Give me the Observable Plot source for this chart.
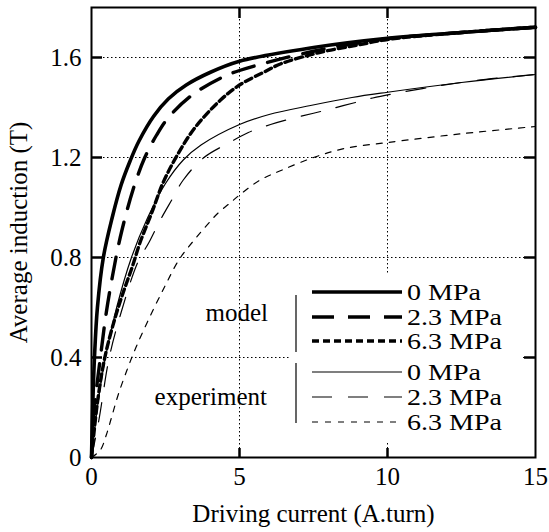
<!DOCTYPE html>
<html><head><meta charset="utf-8">
<script src="https://cdn.jsdelivr.net/npm/d3@7"></script>
<script src="https://cdn.jsdelivr.net/npm/@observablehq/plot@0.6"></script>
<style>body{margin:0;background:#fff;} svg{display:block;}</style>
</head><body>
<div id="chart"></div>
<script>
const xTicks = [0, 5, 10, 15];
const yTicks = [0, 0.4, 0.8, 1.2, 1.6];
const innerTicksX = [5, 10];
const innerTicksY = [0.4, 0.8, 1.2, 1.6];
const pressures = ["0 MPa", "2.3 MPa", "6.3 MPa"];
const groups = ["model", "experiment"];

const model0 = [[0,0],[0.04,0.2],[0.1,0.4],[0.2,0.6],[0.4,0.8],[0.7,0.96],[1.0,1.09],[1.3,1.185],[1.6,1.265],[2.1,1.365],[2.6,1.435],[3.2,1.49],[4,1.54],[5,1.585],[7.5,1.64],[10,1.677],[12.5,1.70],[15,1.721]];
const model23 = [[0,0],[0.1,0.2],[0.3,0.4],[0.5,0.58],[0.7,0.72],[0.97,0.88],[1.4,1.07],[1.8,1.2],[2.2,1.29],[2.6,1.36],[3.4,1.45],[4.4,1.52],[5,1.548],[7.5,1.625],[10,1.675],[12.5,1.70],[15,1.721]];
const model63 = [[0,0],[0.2,0.22],[0.45,0.4],[0.8,0.56],[1.1,0.67],[1.37,0.76],[1.64,0.86],[2.04,0.98],[2.42,1.1],[2.9,1.21],[3.5,1.32],[4.36,1.43],[5,1.49],[5.8,1.54],[6.4,1.575],[7.7,1.62],[9,1.65],[10,1.672],[12.5,1.70],[15,1.721]];
const exp0 = [[0,0],[0.2,0.2],[0.47,0.4],[0.85,0.6],[1.35,0.8],[1.9,0.96],[2.5,1.096],[3.1,1.19],[3.7,1.25],[5,1.332],[6,1.372],[7.4,1.408],[8.8,1.44],[10,1.461],[12.5,1.50],[15,1.532]];
const exp23 = [[0,0],[0.25,0.15],[0.6,0.4],[1.0,0.58],[1.56,0.78],[1.94,0.86],[2.28,0.94],[2.7,1.028],[3.1,1.11],[3.8,1.2],[4.6,1.256],[5.3,1.30],[6.05,1.332],[6.8,1.357],[7.5,1.377],[8.1,1.395],[8.85,1.418],[9.5,1.438],[10.2,1.455],[11.5,1.482],[13,1.508],[15,1.532]];
const exp63 = [[0,0],[0.3,0.03],[0.5,0.09],[0.7,0.17],[0.9,0.25],[1.2,0.35],[1.5,0.44],[2.0,0.57],[2.5,0.69],[2.95,0.79],[3.4,0.86],[3.8,0.916],[4.26,0.976],[4.7,1.02],[5,1.05],[5.7,1.11],[6.4,1.148],[7.5,1.2],[8.55,1.236],[10,1.26],[12.5,1.295],[15,1.324]];

const seriesStyles = [
  {data: model0,  w: 3.6, dash: null},
  {data: model23, w: 3.4, dash: "22,14"},
  {data: model63, w: 3.4, dash: "7,4"},
  {data: exp0,    w: 1.2, dash: null},
  {data: exp23,   w: 1.2, dash: "20,16"},
  {data: exp63,   w: 1.2, dash: "6,7"}
];

const W = 549, H = 532, mL = 91, mR = 14, mT = 7, mB = 75;
const innerH = H - mT - mB, innerW = W - mL - mR;
const fmtY = d => d === 0 ? "0" : d.toFixed(1);

const chart = Plot.plot({
  width: W, height: H,
  marginLeft: mL, marginRight: mR, marginTop: mT, marginBottom: mB,
  x: {domain: [0, 15]},
  y: {domain: [0, 1.8]},
  style: {fontFamily: "'Liberation Serif', 'DejaVu Serif', serif", fontSize: "25px", background: "white", color: "black"},
  marks: [
    Plot.gridX(innerTicksX, {stroke: "black", strokeOpacity: 1, strokeWidth: 1, strokeDasharray: "1.5,2.5"}),
    Plot.gridY(innerTicksY, {stroke: "black", strokeOpacity: 1, strokeWidth: 1, strokeDasharray: "1.5,2.5"}),
    ...seriesStyles.map(s => Plot.line(s.data, {x: d => d[0], y: d => d[1], stroke: "black", strokeWidth: s.w, strokeDasharray: s.dash, curve: "catmull-rom"})),
    Plot.frame({stroke: "black", strokeWidth: 2}),
    Plot.tickX(innerTicksX, {x: d => d, insetTop: innerH - 9, strokeWidth: 2.5}),
    Plot.tickX(innerTicksX, {x: d => d, insetBottom: innerH - 11, strokeWidth: 2.5}),
    Plot.tickY(innerTicksY, {y: d => d, insetRight: innerW - 11, strokeWidth: 2.5}),
    Plot.tickY(innerTicksY, {y: d => d, insetLeft: innerW - 11, strokeWidth: 2.5}),
    Plot.axisX(xTicks, {tickSize: 0, tickPadding: 10, fontSize: 25, label: "Driving current (A.turn)", labelAnchor: "center", labelOffset: 64, labelArrow: "none"}),
    Plot.axisY(yTicks, {tickSize: 0, tickPadding: 10, fontSize: 25, tickFormat: fmtY, label: "Average induction (T)", labelAnchor: "center", labelOffset: 82, labelArrow: "none"})
  ]
});
document.getElementById("chart").appendChild(chart);

// Legend
const svg = d3.select(chart);
const lg = svg.append("g").attr("font-family", "'Liberation Serif', serif").attr("fill", "black").attr("text-anchor", "start");
lg.append("rect").attr("x", 289).attr("y", 273).attr("width", 232).attr("height", 168).attr("fill", "white");
const rowsY = [292, 317, 341, 372, 397, 422];
seriesStyles.forEach((s, i) => {
  lg.append("line").attr("x1", 312).attr("x2", 402).attr("y1", rowsY[i]).attr("y2", rowsY[i])
    .attr("stroke", "black").attr("stroke-width", s.w).attr("stroke-dasharray", s.dash);
  lg.append("text").attr("font-size", 23).attr("transform", `translate(407,${rowsY[i]}) scale(1.22,1)`).attr("dy", "0.34em").attr("text-anchor", "start").text(pressures[i % 3]);
});
lg.append("line").attr("x1", 296).attr("x2", 296).attr("y1", 295).attr("y2", 352).attr("stroke", "black").attr("stroke-width", 1.2);
lg.append("line").attr("x1", 296).attr("x2", 296).attr("y1", 363).attr("y2", 423).attr("stroke", "black").attr("stroke-width", 1.2);
lg.append("text").attr("font-size", 25).attr("x", 268).attr("y", 313).attr("dy", "0.33em").attr("text-anchor", "end").text(groups[0]);
lg.append("text").attr("font-size", 25).attr("x", 267).attr("y", 397).attr("dy", "0.33em").attr("text-anchor", "end").text(groups[1]);
</script>
</body></html>
